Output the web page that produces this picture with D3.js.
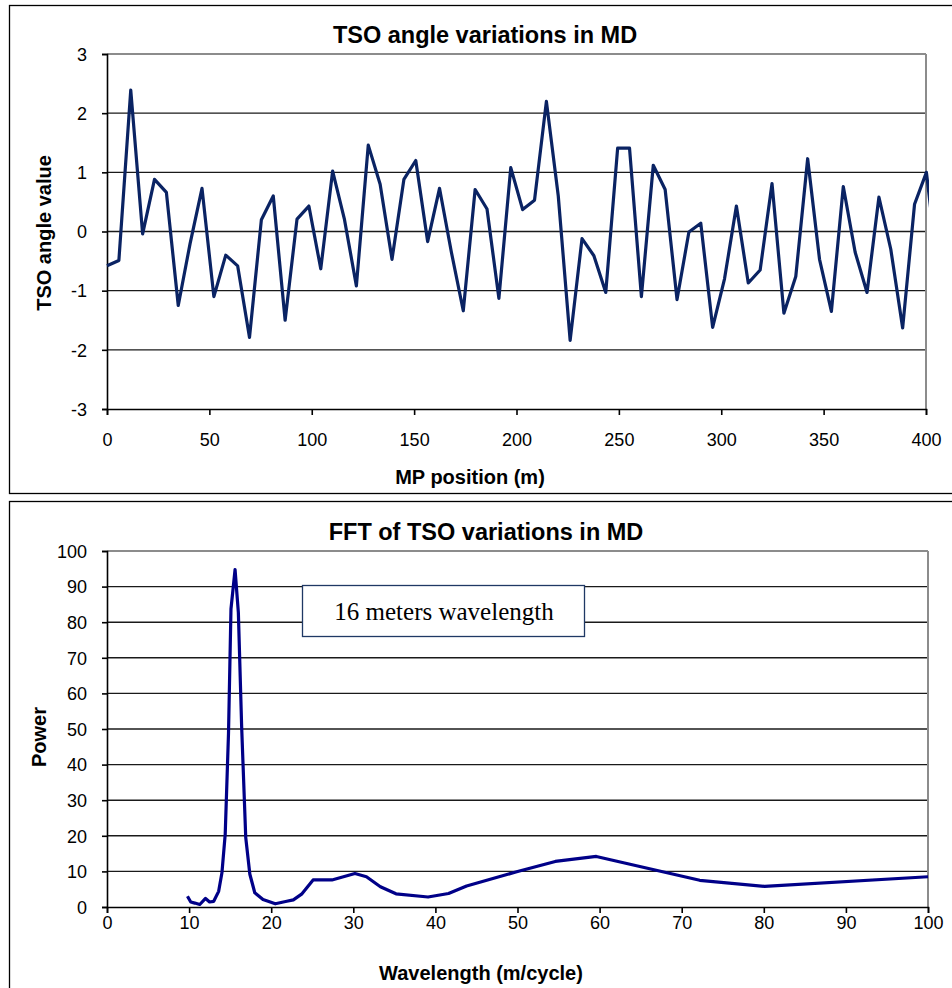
<!DOCTYPE html>
<html><head><meta charset="utf-8">
<script src="https://cdn.jsdelivr.net/npm/d3@7"></script>
<style>body{margin:0;background:#fff}svg{display:block}</style>
</head><body>
<script>
// Top chart data
const mpPosition = [0,5.8,11.6,17.4,23.2,29,34.8,40.6,46.4,52.2,58,63.8,69.6,75.4,81.2,87,92.8,98.6,104.4,110.2,116,121.8,127.6,133.4,139.2,145,150.8,156.6,162.4,168.2,174,179.8,185.6,191.4,197.2,203,208.8,214.6,220.4,226.2,232,237.8,243.6,249.4,255.2,261,266.8,272.6,278.4,284.2,290,295.8,301.6,307.4,313.2,319,324.8,330.6,336.4,342.2,348,353.8,359.6,365.4,371.2,377,382.8,388.6,394.4,400.2,406];
const tsoAngle = [-0.58,-0.49,2.39,-0.04,0.88,0.66,-1.25,-0.2,0.73,-1.1,-0.4,-0.58,-1.79,0.2,0.6,-1.5,0.21,0.43,-0.63,1.02,0.2,-0.92,1.46,0.8,-0.47,0.88,1.2,-0.17,0.73,-0.35,-1.34,0.71,0.38,-1.13,1.08,0.37,0.53,2.2,0.6,-1.84,-0.12,-0.41,-1.03,1.41,1.41,-1.1,1.12,0.71,-1.15,-0.01,0.14,-1.62,-0.8,0.43,-0.87,-0.65,0.81,-1.38,-0.76,1.23,-0.47,-1.35,0.76,-0.35,-1.03,0.58,-0.3,-1.63,0.46,1.0,-0.7];
const topXTicks = [0,50,100,150,200,250,300,350,400];
const topYTicks = [-3,-2,-1,0,1,2,3];

// Bottom chart data
const wavelength = [9.8,10.2,10.7,11.3,12.0,12.5,13.0,13.6,14.0,14.4,14.8,15.1,15.6,16.0,16.4,16.9,17.4,18.0,19.0,20.5,21.9,22.7,23.7,25.1,27.4,30.2,31.6,33.3,35.2,39.1,41.6,43.8,49.9,54.6,59.6,64.5,72.2,80.1,100];
const power = [3.0,1.4,1.1,0.7,2.4,1.4,1.6,4.4,9.6,20.5,48.8,83.7,94.8,82.7,50.7,19.5,9.2,4.0,2.1,0.9,1.6,2.0,3.6,7.6,7.6,9.4,8.5,5.7,3.7,2.8,3.8,5.9,9.9,12.8,14.2,11.6,7.5,5.8,8.5];
const botXTicks = [0,10,20,30,40,50,60,70,80,90,100];
const botYTicks = [0,10,20,30,40,50,60,70,80,90,100];

const W = 952, H = 988;
const svg = d3.select("body").append("svg").attr("width", W).attr("height", H);
const font = "Liberation Sans, Arial, sans-serif";

function frame(x, y, w, h) {
  svg.append("rect").attr("x", x).attr("y", y).attr("width", w).attr("height", h)
    .attr("fill", "none").attr("stroke", "#000").attr("stroke-width", 1.3);
}
frame(9.5, 5.5, 960, 488);
frame(9.5, 501.5, 960, 500);

function chart(opt) {
  const {x0, x1, y0, y1, xDom, yDom, xTicks, yTicks, xs, ys, color, clipId, title, titleY, xTitle, xTitleY, yTitle, yTitleX, yTitleCY, xPad} = opt;
  const x = d3.scaleLinear().domain(xDom).range([x0, x1]);
  const y = d3.scaleLinear().domain(yDom).range([y1, y0]);
  const g = svg.append("g");
  g.selectAll("line.grid").data(yTicks.filter(t => t !== yDom[0] && t !== yDom[1])).join("line")
    .attr("x1", x0).attr("x2", x1).attr("y1", d => y(d)).attr("y2", d => y(d))
    .attr("stroke", "#1a1a1a").attr("stroke-width", 1.4);
  g.append("line").attr("x1", x0).attr("x2", x1).attr("y1", y0).attr("y2", y0).attr("stroke", "#8c8c8c").attr("stroke-width", 2);
  g.append("line").attr("x1", x1).attr("x2", x1).attr("y1", y0).attr("y2", y1).attr("stroke", "#8c8c8c").attr("stroke-width", 2);
  const fmt = d => String(d);
  const ya = d3.axisLeft(y).tickValues(yTicks).tickSize(5).tickPadding(15).tickFormat(fmt);
  const xa = d3.axisBottom(x).tickValues(xTicks).tickSize(6).tickPadding(xPad).tickFormat(fmt);
  const gy = g.append("g").attr("transform", `translate(${x0},0)`).call(ya);
  const gx = g.append("g").attr("transform", `translate(0,${y1})`).call(xa);
  [gx, gy].forEach(a => {
    a.attr("font-size", 18).attr("font-family", font);
    a.select(".domain").attr("stroke", "#000").attr("stroke-width", 1.6);
    a.selectAll(".tick line").attr("stroke", "#000").attr("stroke-width", 1.6);
    a.selectAll("text").attr("font-family", font).attr("font-size", 18).attr("fill", "#000");
  });
  gy.selectAll("text").attr("dy", "0.35em");
  svg.append("clipPath").attr("id", clipId).append("rect")
    .attr("x", x0 - 2).attr("y", y0 - 10).attr("width", x1 - x0 + 5).attr("height", y1 - y0 + 20);
  const line = d3.line().x((d, i) => x(xs[i])).y((d, i) => y(ys[i]));
  svg.append("path").datum(xs).attr("d", line).attr("fill", "none")
    .attr("stroke", color).attr("stroke-width", 3.2).attr("stroke-linejoin", "round")
    .attr("clip-path", `url(#${clipId})`);
  svg.append("text").attr("x", opt.titleX).attr("y", titleY).attr("text-anchor", "middle")
    .attr("font-family", font).attr("font-weight", "bold").attr("font-size", 23.5).text(title);
  svg.append("text").attr("x", opt.xTitleX).attr("y", xTitleY).attr("text-anchor", "middle")
    .attr("font-family", font).attr("font-weight", "bold").attr("font-size", 20).text(xTitle);
  svg.append("text").attr("transform", `translate(${yTitleX},${yTitleCY}) rotate(-90)`).attr("text-anchor", "middle")
    .attr("font-family", font).attr("font-weight", "bold").attr("font-size", 20).text(yTitle);
  return {x, y};
}

chart({x0: 107, x1: 926, y0: 54, y1: 409, xDom: [0, 400], yDom: [-3, 3], xTicks: topXTicks, yTicks: topYTicks,
  xs: mpPosition, ys: tsoAngle, color: "#0a2363", clipId: "c1", xPad: 18,
  title: "TSO angle variations in MD", titleX: 485, titleY: 43, xTitle: "MP position (m)", xTitleX: 470, xTitleY: 484,
  yTitle: "TSO angle value", yTitleX: 51, yTitleCY: 233});

chart({x0: 107, x1: 928, y0: 551, y1: 907, xDom: [0, 100], yDom: [0, 100], xTicks: botXTicks, yTicks: botYTicks,
  xs: wavelength, ys: power, color: "#000088", clipId: "c2", xPad: 3,
  title: "FFT of TSO variations in MD", titleX: 486, titleY: 540, xTitle: "Wavelength (m/cycle)", xTitleX: 481, xTitleY: 980,
  yTitle: "Power", yTitleX: 46, yTitleCY: 737});

svg.append("rect").attr("x", 302.5).attr("y", 585.5).attr("width", 282).attr("height", 51)
  .attr("fill", "#fff").attr("stroke", "#1f3864").attr("stroke-width", 1.3);
svg.append("text").attr("x", 444).attr("y", 620).attr("text-anchor", "middle")
  .attr("font-family", "Liberation Serif, Times New Roman, serif").attr("font-size", 25).text("16 meters wavelength");
</script>
</body></html>
